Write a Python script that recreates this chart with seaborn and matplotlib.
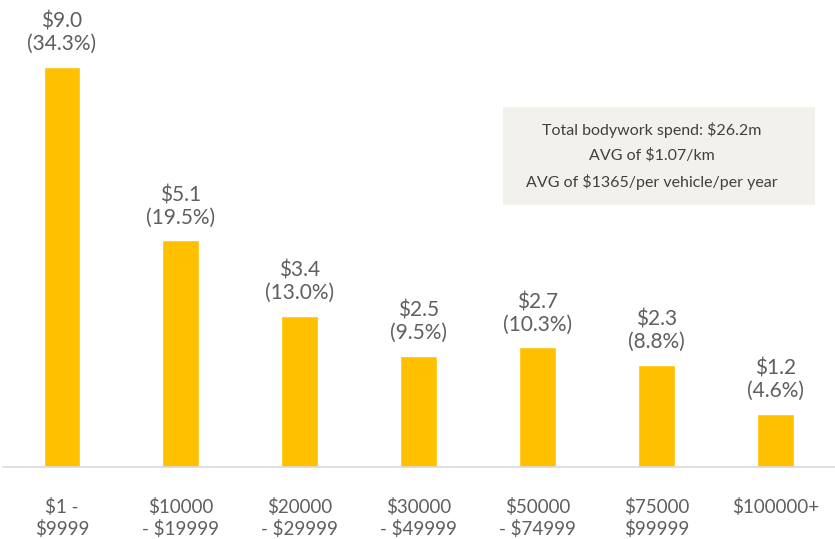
import numpy as np
import pandas as pd
import matplotlib
matplotlib.use("Agg")
import matplotlib.pyplot as plt
import seaborn as sns
from matplotlib.patches import Rectangle

# Bodywork spend by cost band ($m) and share of total
bands = ["$1 -\n$9999", "$10000\n- $19999", "$20000\n- $29999", "$30000\n- $49999",
         "$50000\n- $74999", "$75000\n$99999", "$100000+"]
spend = [9.0, 5.1, 3.4, 2.5, 2.7, 2.3, 1.2]
share = [34.3, 19.5, 13.0, 9.5, 10.3, 8.8, 4.6]
note_lines = ["Total bodywork spend: $26.2m", "AVG of $1.07/km",
              "AVG of $1365/per vehicle/per year"]

sns.set_style("white")
plt.rcParams["font.family"] = ["Lato", "DejaVu Sans"]
text_color = "#5f5f5f"

df = pd.DataFrame({"band": bands, "spend": spend})

fig = plt.figure(figsize=(8.35, 5.39), dpi=100)
ax = fig.add_axes([0.003, 0.1336, 0.997, 0.8664])

sns.barplot(data=df, x="band", y="spend", color="#FFC000", width=0.31,
            saturation=1, ax=ax)

ax.set_ylim(0, 10.5)
ax.set_xlim(-0.5, 6.5)
for i, (v, s) in enumerate(zip(spend, share)):
    ax.annotate(f"${v:.1f}\n({s:.1f}%)", (i, v), xytext=(0, 9),
                textcoords="offset points", ha="center", va="bottom",
                fontsize=15, color=text_color, linespacing=1.15)

ax.set_xlabel("")
ax.set_ylabel("")
ax.set_yticks([])
ax.tick_params(axis="x", length=0, pad=22, labelsize=13.5, labelcolor=text_color)
for lab in ax.get_xticklabels():
    lab.set_linespacing(1.3)
for side in ["top", "right", "left"]:
    ax.spines[side].set_visible(False)
ax.spines["bottom"].set_color("#D9D9D9")
ax.spines["bottom"].set_linewidth(1.2)

# note box
ax.add_patch(Rectangle((3.706, 5.891), 2.622, 2.203, facecolor="#F2F1EB",
                       edgecolor="none", zorder=1))
ax.text(4.958, 6.99, "\n".join(note_lines), ha="center", va="center",
        fontsize=11.5, color="#404040", linespacing=1.85, zorder=2)

fig.savefig("out.png", dpi=100)
